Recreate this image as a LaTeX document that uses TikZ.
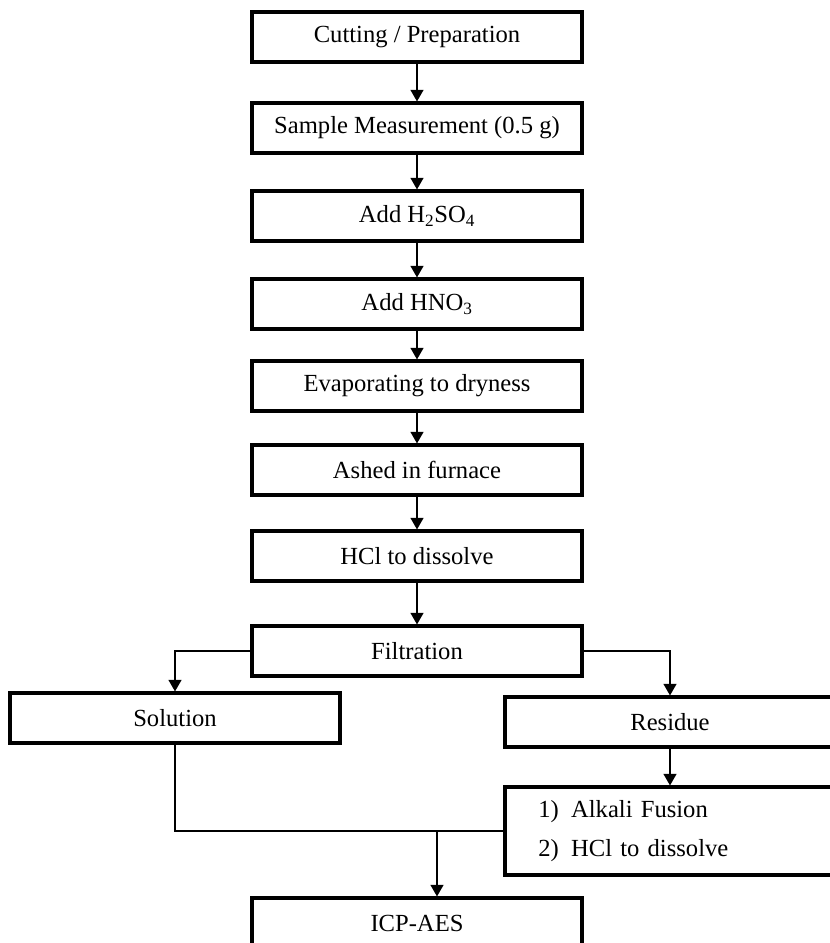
\documentclass[tikz,border=0pt]{standalone}
\usepackage{fontspec}
\setmainfont{Liberation Serif}
\usetikzlibrary{arrows.meta}

\begin{document}
\begin{tikzpicture}[x=0.03cm, y=-0.03cm, >={Triangle[width=11pt,length=10pt]},
    stepbox/.style={draw, line width=2.6pt, minimum width=9.9cm, minimum height=1.5cm, inner sep=0pt},
    link/.style={line width=1.7pt},
    font=\fontsize{21pt}{25pt}\selectfont]

    \useasboundingbox (0,0) rectangle (829,943);

    % ---------- 主流程（中间一列）----------
    \foreach \name/\y/\txt in {
        cut/37/{Cutting / Preparation},
        sample/128/{Sample Measurement (0.5 g)},
        acid1/216/{Add H\textsubscript{2}SO\textsubscript{4}},
        acid2/304/{Add HNO\textsubscript{3}},
        evap/386/{Evaporating to dryness},
        ash/470/{Ashed in furnace},
        hcl/556/{HCl to dissolve},
        filt/651/{Filtration}
    }{
        \node[stepbox] (\name) at (417,\y) {\txt};
    }

    \foreach \a/\b in {cut/sample, sample/acid1, acid1/acid2, acid2/evap,
                       evap/ash, ash/hcl, hcl/filt}{
        \draw[link,->] (\a) -- (\b);
    }

    % ---------- 过滤后的两支 ----------
    \node[stepbox] (sol) at (175,718) {Solution};
    \node[stepbox] (res) at (670,722) {Residue};
    \node[stepbox, minimum height=2.64cm, text width=7.9cm, inner xsep=1cm, align=left]
        (fus) at (670,831) {1)\enspace Alkali Fusion\\[0.3cm]2)\enspace HCl to dissolve};

    \draw[link,->] (filt.west) -| (sol.north);
    \draw[link,->] (filt.east) -| (res.north);
    \draw[link,->] (res) -- (fus);

    % ---------- 合并后测定 ----------
    \node[stepbox] (icp) at (417,923) {ICP-AES};

    \draw[link] (sol.south) |- (fus.west);
    \coordinate (join) at (437,831);
    \draw[link,->] (join) -- (join |- icp.north);

\end{tikzpicture}
\end{document}
